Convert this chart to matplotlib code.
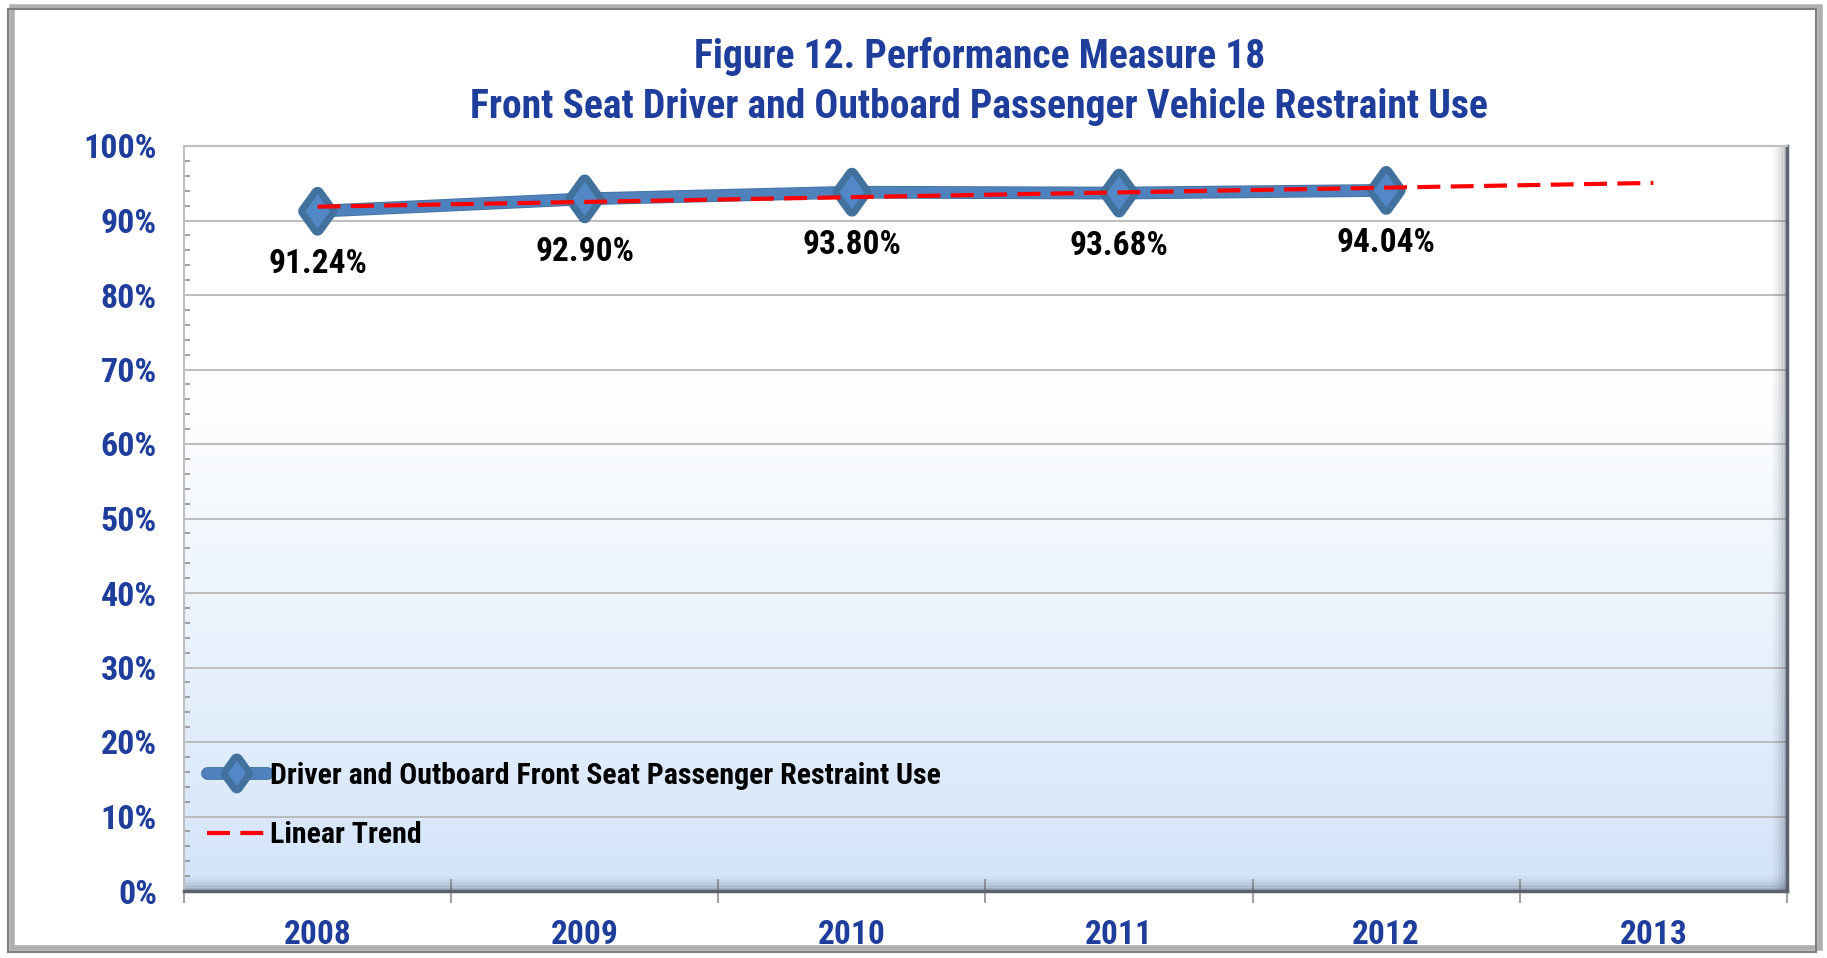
import numpy as np
import matplotlib
matplotlib.use("Agg")
import matplotlib.pyplot as plt
from matplotlib.patches import Rectangle
from matplotlib.path import Path
import matplotlib.patheffects as pe

# data
years = ['2008', '2009', '2010', '2011', '2012', '2013']
restraint_use = [91.24, 92.90, 93.80, 93.68, 94.04]
value_labels = ['91.24%', '92.90%', '93.80%', '93.68%', '94.04%']
y_ticks = [0, 10, 20, 30, 40, 50, 60, 70, 80, 90, 100]

blue = '#1F3E9C'
line_blue = '#4F81BD'

plt.rcParams['font.family'] = ['Roboto Condensed', 'DejaVu Sans']
plt.rcParams['font.weight'] = 'bold'

fig = plt.figure(figsize=(18.27, 9.58), dpi=100)
ax = fig.add_axes([184 / 1827, 1 - 891 / 958, (1787 - 184) / 1827, (891 - 146) / 958])

# outer frame with a little shadow
fig.patches.append(Rectangle((12 / 1827, 10 / 958), 1808 / 1827, 941 / 958, transform=fig.transFigure,
                             facecolor='none', edgecolor='#B0B0B0', lw=4, zorder=0))
fig.patches.append(Rectangle((8 / 1827, 6 / 958), 1808 / 1827, 943 / 958, transform=fig.transFigure,
                             facecolor='none', edgecolor='#7F7F7F', lw=1.5, zorder=1))

# background gradient (white top -> light blue bottom)
t = np.linspace(0, 1, 256)[:, None]
f = np.clip((t - 0.3) / 0.7, 0, 1) ** 1.1
top = np.array([1.0, 1.0, 1.0])
bot = np.array([0xD3, 0xE4, 0xF9]) / 255
grad = (top[None, None, :] * (1 - f[..., None]) + bot[None, None, :] * f[..., None])
ax.imshow(grad, extent=[0, 1, 0, 1], transform=ax.transAxes, aspect='auto', zorder=0)

x = np.arange(len(years))
xs = x[:len(restraint_use)]

# grid
for v in y_ticks[1:]:
    ax.axhline(v, color='#B8B8B8', lw=1.3, zorder=1)

# linear trend over the data, extended to 2013
slope, intercept = np.polyfit(xs, restraint_use, 1)
trend = slope * x + intercept

diamond = Path([(0, 1), (0.72, 0), (0, -1), (-0.72, 0), (0, 1)],
               [Path.MOVETO, Path.LINETO, Path.LINETO, Path.LINETO, Path.CLOSEPOLY])

ax.plot(xs, restraint_use, color=line_blue, lw=8, solid_capstyle='round', zorder=3,
        path_effects=[pe.Stroke(linewidth=9.2, foreground='#41719C'), pe.Normal()],
        marker=diamond, markersize=26, markerfacecolor='#5288C8', markeredgecolor='#41719C',
        markeredgewidth=0.8, label='Driver and Outboard Front Seat Passenger Restraint Use')
ax.plot(x, trend, color='#FF0000', lw=3, dashes=(5.5, 2.5), zorder=4, label='Linear Trend')

for xi, yi, lab in zip(xs, restraint_use, value_labels):
    ax.annotate(lab, (xi, yi), xytext=(0, -38), textcoords='offset points',
                ha='center', va='center', fontsize=24, fontweight='bold', color='black', zorder=5)

ax.set_xlim(-0.5, len(years) - 0.5)
ax.set_ylim(0, 100)

ax.set_yticks(y_ticks)
ax.set_yticklabels([f'{v}%' for v in y_ticks])
ax.set_yticks(np.arange(0, 101, 2), minor=True)
ax.tick_params(axis='y', which='major', length=0, pad=19.5, labelsize=24.5, labelcolor=blue)
ax.tick_params(axis='y', which='minor', direction='in', length=4.5, width=1.2, color='#909090')

ax.set_xticks(x)
ax.set_xticklabels(years)
ax.set_xticks(np.arange(-0.5, len(years), 1), minor=True)
ax.tick_params(axis='x', which='major', length=0, pad=20, labelsize=24, labelcolor=blue)
ax.tick_params(axis='x', which='minor', direction='inout', length=17, width=1.2, color='#909090')
for lab in ax.get_xticklabels() + ax.get_yticklabels():
    lab.set_fontweight('bold')

for s in ['top', 'left']:
    ax.spines[s].set_color('#BFBFBF')
    ax.spines[s].set_linewidth(1.5)
for s in ['right', 'bottom']:
    ax.spines[s].set_color('#5A6270')
    ax.spines[s].set_linewidth(2.5)

# soft inner shadow along bottom and right edges
for i, a in enumerate([0.4, 0.28, 0.17, 0.09, 0.04]):
    ax.plot([0, 1], [0.003 + i * 0.004] * 2, transform=ax.transAxes, color='#4A5563',
            alpha=a, lw=2, zorder=2, clip_on=False)
    ax.plot([0.9985 - i * 0.0018] * 2, [0, 1], transform=ax.transAxes, color='#4A5563',
            alpha=a, lw=2, zorder=2, clip_on=False)

leg = ax.legend(loc='lower left', bbox_to_anchor=(0.0143, 0.056), frameon=False, fontsize=21.5,
                handlelength=2.0, handletextpad=0.1, labelspacing=1.05, borderpad=0, borderaxespad=0,
                markerscale=0.75)
for txt in leg.get_texts():
    txt.set_fontweight('bold')

fig.text(0.536, 1 - 57 / 958, 'Figure 12. Performance Measure 18', ha='center', va='center',
         fontsize=28.5, fontweight='bold', color=blue)
fig.text(0.536, 1 - 107 / 958, 'Front Seat Driver and Outboard Passenger Vehicle Restraint Use',
         ha='center', va='center', fontsize=28.5, fontweight='bold', color=blue)

fig.savefig('out.png', dpi=100)
